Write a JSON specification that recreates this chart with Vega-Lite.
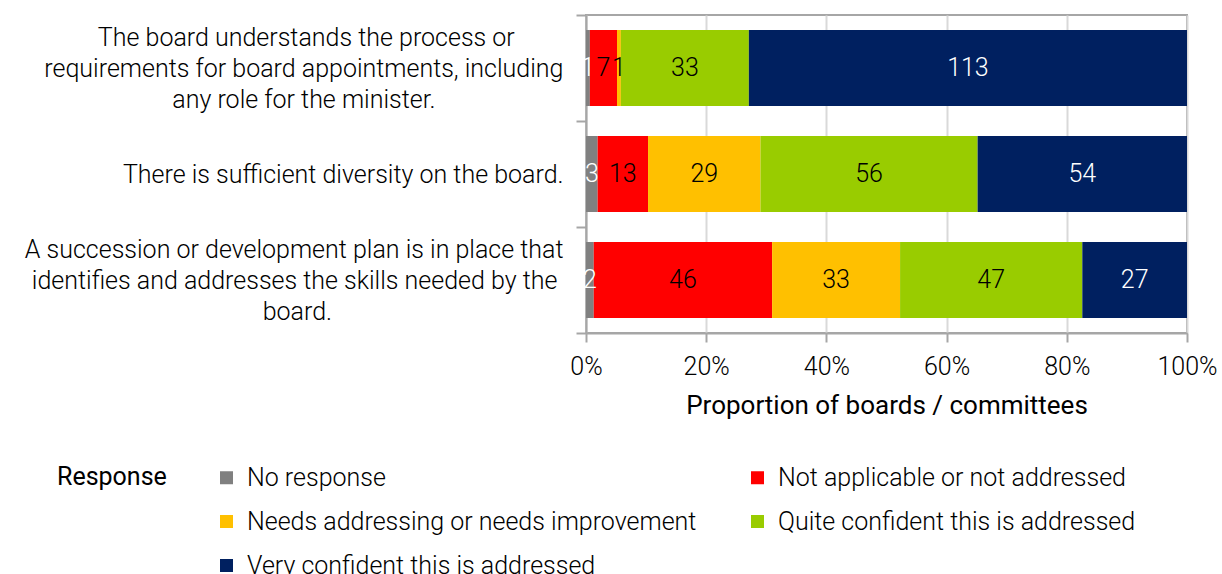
{
  "$schema": "https://vega.github.io/schema/vega-lite/v6.json",
  "width": 601,
  "height": 318,
  "autosize": {"type": "none"},
  "padding": {"left": 586, "top": 15, "right": 35, "bottom": 241},
  "config": {
    "font": "Roboto",
    "view": {"stroke": "#a6a6a6", "strokeWidth": 2}
  },
  "data": {
    "values": [
      {"q": "The board understands the process or requirements for board appointments, including any role for the minister.", "r": "No response", "k": 1, "n": 1},
      {"q": "The board understands the process or requirements for board appointments, including any role for the minister.", "r": "Not applicable or not addressed", "k": 2, "n": 7},
      {"q": "The board understands the process or requirements for board appointments, including any role for the minister.", "r": "Needs addressing or needs improvement", "k": 3, "n": 1},
      {"q": "The board understands the process or requirements for board appointments, including any role for the minister.", "r": "Quite confident this is addressed", "k": 4, "n": 33},
      {"q": "The board understands the process or requirements for board appointments, including any role for the minister.", "r": "Very confident this is addressed", "k": 5, "n": 113},
      {"q": "There is sufficient diversity on the board.", "r": "No response", "k": 1, "n": 3},
      {"q": "There is sufficient diversity on the board.", "r": "Not applicable or not addressed", "k": 2, "n": 13},
      {"q": "There is sufficient diversity on the board.", "r": "Needs addressing or needs improvement", "k": 3, "n": 29},
      {"q": "There is sufficient diversity on the board.", "r": "Quite confident this is addressed", "k": 4, "n": 56},
      {"q": "There is sufficient diversity on the board.", "r": "Very confident this is addressed", "k": 5, "n": 54},
      {"q": "A succession or development plan is in place that identifies and addresses the skills needed by the board.", "r": "No response", "k": 1, "n": 2},
      {"q": "A succession or development plan is in place that identifies and addresses the skills needed by the board.", "r": "Not applicable or not addressed", "k": 2, "n": 46},
      {"q": "A succession or development plan is in place that identifies and addresses the skills needed by the board.", "r": "Needs addressing or needs improvement", "k": 3, "n": 33},
      {"q": "A succession or development plan is in place that identifies and addresses the skills needed by the board.", "r": "Quite confident this is addressed", "k": 4, "n": 47},
      {"q": "A succession or development plan is in place that identifies and addresses the skills needed by the board.", "r": "Very confident this is addressed", "k": 5, "n": 27}
    ]
  },
  "transform": [
    {"stack": "n", "groupby": ["q"], "sort": [{"field": "k", "order": "ascending"}], "offset": "normalize", "as": ["x0", "x1"]},
    {"calculate": "(datum.x0 + datum.x1) / 2", "as": "xm"}
  ],
  "layer": [
    {
      "mark": {"type": "bar", "height": {"band": 0.717}},
      "encoding": {
        "y": {
          "field": "q", "type": "nominal", "sort": null,
          "scale": {"paddingInner": 0, "paddingOuter": 0},
          "axis": {
            "title": null,
            "labelExpr": "indexof(datum.label, 'The board') === 0 ? ['The board understands the process or\u00a0\u00a0\u00a0\u00a0\u00a0\u00a0\u00a0\u00a0\u200b', 'requirements for board appointments, including', 'any role for the minister.\u00a0\u00a0\u00a0\u00a0\u00a0\u00a0\u00a0\u00a0\u00a0\u00a0\u00a0\u00a0\u00a0\u00a0\u00a0\u00a0\u00a0\u00a0\u00a0\u00a0\u00a0\u200b'] : (indexof(datum.label, 'A succession') === 0 ? ['A succession or development plan is in place that', 'identifies and addresses the skills needed by the\u00a0\u200b', 'board.\u00a0\u00a0\u00a0\u00a0\u00a0\u00a0\u00a0\u00a0\u00a0\u00a0\u00a0\u00a0\u00a0\u00a0\u00a0\u00a0\u00a0\u00a0\u00a0\u00a0\u00a0\u00a0\u00a0\u00a0\u00a0\u00a0\u00a0\u00a0\u00a0\u00a0\u00a0\u00a0\u00a0\u00a0\u00a0\u00a0\u00a0\u00a0\u200b'] : ['', datum.label])",
            "labelFontSize": 25, "labelFontWeight": 300, "labelColor": "#000000",
            "labelLineHeight": 31, "labelLimit": 0, "labelAlign": "right", "labelBaseline": "middle",
            "labelPadding": 13, "labelOffset": -31,
            "tickBand": "extent", "tickSize": 10, "tickColor": "#a6a6a6", "tickWidth": 2,
            "domainColor": "#a6a6a6", "domainWidth": 2, "grid": false
          }
        },
        "x": {
          "field": "x0", "type": "quantitative",
          "scale": {"domain": [0, 1], "nice": false},
          "axis": {
            "values": [0, 0.2, 0.4, 0.6, 0.8, 1], "format": ".0%",
            "title": "Proportion of boards / committees",
            "titleFontSize": 26, "titleFontWeight": 400, "titleColor": "#000000", "titlePadding": 13,
            "labelFontSize": 25, "labelFontWeight": 300, "labelColor": "#000000", "labelPadding": 12,
            "labelFlush": false,
            "tickSize": 9, "tickColor": "#a6a6a6", "tickWidth": 2,
            "domainColor": "#a6a6a6", "domainWidth": 2,
            "grid": true, "gridColor": "#d9d9d9", "gridWidth": 2
          }
        },
        "x2": {"field": "x1"},
        "color": {
          "field": "r", "type": "nominal",
          "scale": {
            "domain": ["No response", "Needs addressing or needs improvement", "Very confident this is addressed", "Not applicable or not addressed", "Quite confident this is addressed"],
            "range": ["#808080", "#ffc000", "#002060", "#ff0000", "#99cc00"]
          },
          "legend": {
            "title": "Response", "orient": "none", "legendX": -529, "legendY": 450,
            "columns": 2, "titleOrient": "left", "titleAnchor": "start", "titleFontSize": 25, "titleFontWeight": 400,
            "titleColor": "#000000", "titlePadding": 47,
            "labelFontSize": 25, "labelFontWeight": 300, "labelColor": "#000000", "labelLimit": 0,
            "labelOffset": 8, "symbolType": "square", "symbolSize": 169, "symbolStrokeWidth": 0,
            "symbolOpacity": 1, "rowPadding": 18, "columnPadding": 48
          }
        }
      }
    },
    {
      "mark": {"type": "text", "fontSize": 25, "fontWeight": 300},
      "encoding": {
        "y": {"field": "q", "type": "nominal", "sort": null},
        "x": {"field": "xm", "type": "quantitative"},
        "text": {"field": "n", "type": "quantitative"},
        "color": {
          "condition": {"test": "datum.r === 'No response' || datum.r === 'Very confident this is addressed'", "value": "#ffffff"},
          "value": "#000000"
        }
      }
    }
  ]
}
